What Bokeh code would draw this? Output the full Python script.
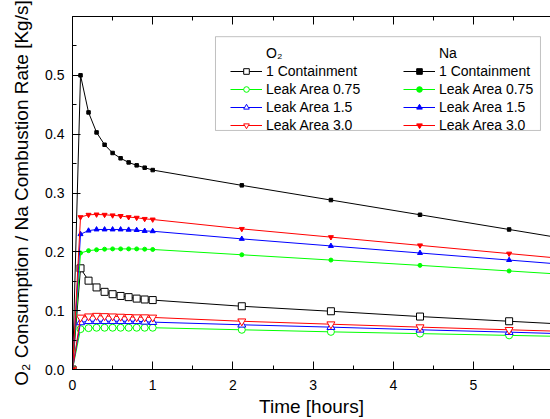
from bokeh.plotting import figure
from bokeh.models import (Legend, LegendItem, LinearAxis, SingleIntervalTicker,
                          PrintfTickFormatter, Range1d, BoxAnnotation, CustomJSTickFormatter)
from bokeh.embed import file_html
from bokeh.resources import INLINE

# ---- data ----
t = [0, 0.1, 0.2, 0.3, 0.4, 0.5, 0.6, 0.7, 0.8, 0.9, 1.0, 2.111, 3.222, 4.333, 5.444, 6.556]

na_cont = [0, 0.500, 0.437, 0.403, 0.382, 0.368, 0.359, 0.352, 0.347, 0.343, 0.339, 0.313, 0.288, 0.263, 0.238, 0.213]
na_075 = [0, 0.198, 0.202, 0.2035, 0.2045, 0.205, 0.205, 0.205, 0.205, 0.2045, 0.204, 0.195, 0.186, 0.177, 0.1675, 0.158]
na_15 = [0, 0.230, 0.236, 0.238, 0.238, 0.238, 0.238, 0.2375, 0.237, 0.2355, 0.235, 0.222, 0.210, 0.198, 0.186, 0.174]
na_30 = [0, 0.259, 0.263, 0.2635, 0.263, 0.262, 0.261, 0.259, 0.258, 0.256, 0.255, 0.239, 0.225, 0.211, 0.197, 0.183]

o2_cont = [0, 0.172, 0.151, 0.1395, 0.132, 0.128, 0.125, 0.123, 0.1205, 0.119, 0.118, 0.1075, 0.099, 0.090, 0.082, 0.074]
o2_075 = [0, 0.0686, 0.0703, 0.071, 0.071, 0.071, 0.071, 0.071, 0.071, 0.071, 0.071, 0.0675, 0.064, 0.061, 0.058, 0.055]
o2_15 = [0, 0.080, 0.082, 0.082, 0.082, 0.082, 0.082, 0.082, 0.082, 0.081, 0.0805, 0.076, 0.072, 0.0675, 0.0635, 0.059]
o2_30 = [0, 0.0885, 0.0905, 0.0915, 0.091, 0.0905, 0.090, 0.0895, 0.089, 0.089, 0.0885, 0.082, 0.077, 0.072, 0.0675, 0.063]

series_labels = ["1 Containment", "Leak Area 0.75", "Leak Area 1.5", "Leak Area 3.0"]
header_o2 = "O\u2082"
header_na = "Na"
x_label = "Time [hours]"
y_label = "O\u2082 Consumption / Na Combustion Rate [Kg/s]"

# ---- styles ----
colors = ["black", "#00ff00", "#0000ff", "#ff0000"]
markers = ["square", "circle", "triangle", "inverted_triangle"]
o2_sizes = [7, 7, 8, 8]
na_sizes = [3.5, 4, 5, 5]
FONT = "Liberation Sans"

p = figure(width=550, height=419, output_backend="svg", toolbar_location=None,
           x_range=Range1d(0, 5.96), y_range=Range1d(0, 0.6),
           min_border_left=72, min_border_right=0, min_border_top=16, min_border_bottom=10)
p.xgrid.visible = False
p.ygrid.visible = False
p.outline_line_color = None
p.background_fill_color = "white"
p.border_fill_color = "white"

o2_sets = [o2_cont, o2_075, o2_15, o2_30]
na_sets = [na_cont, na_075, na_15, na_30]

o2_items = []
na_items = []
for i in range(4):
    lo = p.line(t, o2_sets[i], line_color=colors[i], line_width=1)
    so = p.scatter(t, o2_sets[i], marker=markers[i], size=o2_sizes[i],
                   line_color=colors[i], fill_color="white", line_width=1)
    o2_items.append(LegendItem(label=series_labels[i], renderers=[lo, so]))
for i in range(4):
    ln = p.line(t, na_sets[i], line_color=colors[i], line_width=1)
    sn = p.scatter(t, na_sets[i], marker=markers[i], size=na_sizes[i],
                   line_color=colors[i], fill_color=colors[i], line_width=1)
    na_items.append(LegendItem(label=series_labels[i], renderers=[ln, sn]))

dummy1 = p.line([], [], line_alpha=0)
dummy2 = p.line([], [], line_alpha=0)

# axes
for ax, interval in ((p.xaxis[0], 1), (p.yaxis[0], 0.1)):
    ax.ticker = SingleIntervalTicker(interval=interval, num_minor_ticks=2)
    ax.major_tick_in = 8
    ax.major_tick_out = 0
    ax.minor_tick_in = 4
    ax.minor_tick_out = 0
    ax.axis_line_color = "black"
    ax.major_tick_line_color = "black"
    ax.minor_tick_line_color = "black"
    ax.major_label_text_font = FONT
    ax.major_label_text_font_size = "14px"
    ax.major_label_text_color = "black"
    ax.axis_label_text_font = FONT
    ax.axis_label_text_font_size = "19px"
    ax.axis_label_text_font_style = "normal"
    ax.axis_label_text_color = "black"
p.yaxis[0].formatter = PrintfTickFormatter(format="%.1f")
p.xaxis[0].axis_label = x_label
p.yaxis[0].axis_label = y_label
p.xaxis[0].major_label_standoff = 10
p.xaxis[0].axis_label_standoff = 3
p.yaxis[0].major_label_standoff = 8
p.yaxis[0].axis_label_standoff = 10

top = LinearAxis(ticker=SingleIntervalTicker(interval=1, num_minor_ticks=2),
                 major_tick_in=8, major_tick_out=0, minor_tick_in=4, minor_tick_out=0,
                 formatter=CustomJSTickFormatter(code="return ''"),
                 major_label_standoff=0, axis_line_color="black")
p.add_layout(top, "above")

# legend border box
box = BoxAnnotation(left=1.783, right=5.835, bottom=0.4063, top=0.5657,
                    fill_alpha=0, line_color="#333333", line_width=1)
p.add_layout(box)

def make_legend(items, loc):
    lg = Legend(items=items, location=loc, orientation="vertical",
                border_line_alpha=0, background_fill_alpha=0,
                padding=0, spacing=2, margin=0,
                glyph_width=32, glyph_height=14, label_height=14,
                label_standoff=4, label_text_font=FONT,
                label_text_font_size="14px", label_text_color="black")
    return lg

leg1 = make_legend([LegendItem(label=header_o2, renderers=[dummy1])] + o2_items, (158, 236))
leg2 = make_legend([LegendItem(label=header_na, renderers=[dummy2])] + na_items, (331, 236))
p.add_layout(leg1, "center")
p.add_layout(leg2, "center")

open("out.html", "w").write(file_html(p, INLINE))
